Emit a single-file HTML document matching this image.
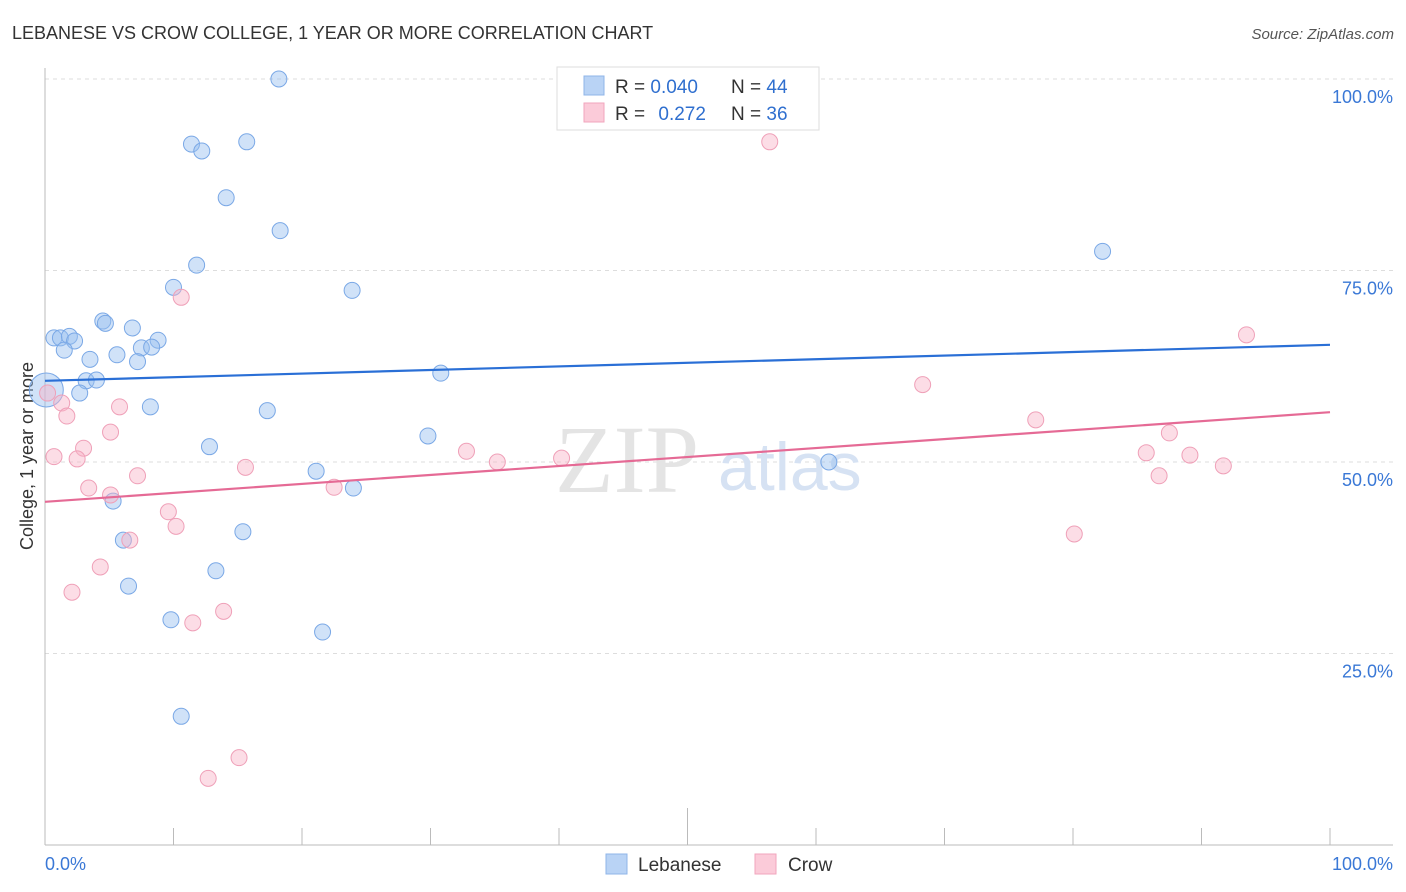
<!DOCTYPE html>
<html><head><meta charset="utf-8">
<style>
body{margin:0;background:#fff;font-family:"Liberation Sans",sans-serif;}
svg{display:block}
</style></head>
<body>
<svg id="chart" width="1406" height="892">
<text x="12" y="39" font-size="18" fill="#333">LEBANESE VS CROW COLLEGE, 1 YEAR OR MORE CORRELATION CHART</text>
<text x="1394" y="39" font-size="15" fill="#555" font-style="italic" text-anchor="end">Source: ZipAtlas.com</text>
<text transform="translate(33,456) rotate(-90)" font-size="18" fill="#333" text-anchor="middle">College, 1 year or more</text>
<g id="grid"></g>
<text x="555" y="492" font-size="96" fill="#e4e4e4" font-family="Liberation Serif,serif">ZIP</text>
<text x="718" y="490" font-size="68" fill="#d6e2f3">atlas</text>
<g id="marks"></g>
<g>
<rect x="557" y="67" width="262" height="63" fill="#fff" stroke="#ddd"/>
<rect x="584" y="76" width="20" height="19" fill="#b9d3f5" stroke="#8fb4e8"/>
<rect x="584" y="103" width="20" height="19" fill="#fbcbd9" stroke="#f2a6bd"/>
<text x="615" y="93" font-size="19" fill="#333">R = <tspan fill="#2f6fcf">0.040</tspan></text>
<text x="731" y="93" font-size="19" fill="#333">N = <tspan fill="#2f6fcf">44</tspan></text>
<text x="615" y="120" font-size="19" fill="#333">R = <tspan fill="#2f6fcf" dx="8">0.272</tspan></text>
<text x="731" y="120" font-size="19" fill="#333">N = <tspan fill="#2f6fcf">36</tspan></text>
</g>
<g>
<rect x="606" y="854" width="21" height="20" fill="#b9d3f5" stroke="#8fb4e8"/>
<text x="638" y="871" font-size="19" fill="#333">Lebanese</text>
<rect x="755" y="854" width="21" height="20" fill="#fbcbd9" stroke="#f2a6bd"/>
<text x="788" y="871" font-size="19" fill="#333">Crow</text>
</g>
</svg>
<script>
const yTicks=[25,50,75,100];
const yTickLabels=["25.0%","50.0%","75.0%","100.0%"];
const xTicks=[0,10,20,30,40,50,60,70,80,90,100];
const lebX=[18.2,11.4,12.2,15.7,14.1,18.3,11.8,10.0,23.9,4.5,4.7,6.8,0.7,1.2,1.9,2.3,8.8,7.5,8.3,1.5,5.6,3.5,7.2,3.2,4.0,2.7,0.1,8.2,17.3,30.8,29.8,12.8,21.1,24.0,5.3,61.0,82.3,15.4,6.1,13.3,6.5,9.8,21.6,10.6];
const lebY=[100,91.5,90.6,91.8,84.5,80.2,75.7,72.8,72.4,68.4,68.1,67.5,66.2,66.2,66.4,65.8,65.9,64.9,65.0,64.6,64.0,63.4,63.1,60.6,60.7,59.0,59.4,57.2,56.7,61.6,53.4,52.0,48.8,46.6,44.9,50.0,77.5,40.9,39.8,35.8,33.8,29.4,27.8,16.8];
const crowX=[56.4,10.6,93.5,68.3,0.2,1.3,1.7,5.8,5.1,77.1,3.0,0.7,2.5,32.8,35.2,40.2,87.5,85.7,89.1,91.7,15.6,7.2,3.4,5.1,22.5,86.7,9.6,10.2,6.6,4.3,2.1,13.9,11.5,80.1,15.1,12.7];
const crowY=[91.8,71.5,66.6,60.1,59.0,57.7,56.0,57.2,53.9,55.5,51.8,50.7,50.4,51.4,50.0,50.5,53.8,51.2,50.9,49.5,49.3,48.2,46.6,45.7,46.7,48.2,43.5,41.6,39.8,36.3,33.0,30.5,29.0,40.6,11.4,8.7];
const lebTrend=[60.6,65.3];
const crowTrend=[44.8,56.5];
const NS="http://www.w3.org/2000/svg";
const sx=v=>45+v*12.85;
const sy=v=>845-v*7.66;
function mk(tag,attrs,parent){const e=document.createElementNS(NS,tag);for(const k in attrs)e.setAttribute(k,attrs[k]);parent.appendChild(e);return e;}
const grid=document.getElementById('grid');
const marks=document.getElementById('marks');
yTicks.forEach((t,i)=>{
  const l=mk('line',{x1:45,x2:1393,y1:sy(t),y2:sy(t),stroke:'#ddd','stroke-dasharray':'4,4'},grid);
  
  
  const tx=mk('text',{x:1393,y:sy(t)+24,'font-size':18,fill:'#3a78d6','text-anchor':'end'},grid);
  tx.textContent=yTickLabels[i];
  
  
});
const ax=mk('line',{x1:45,x2:45,y1:68,y2:845,stroke:'#bbb'},grid);


const bx=mk('line',{x1:45,x2:1393,y1:845,y2:845,stroke:'#bbb'},grid);


xTicks.forEach(t=>{
  const tk=mk('line',{x1:sx(t),x2:sx(t),y1:845,y2:t===50?808:828,stroke:'#bbb'},grid);
  
  
});
const xl0=mk('text',{x:45,y:870,'font-size':18,fill:'#3a78d6'},grid);xl0.textContent='0.0%';


const xl1=mk('text',{x:1393,y:870,'font-size':18,fill:'#3a78d6','text-anchor':'end'},grid);xl1.textContent='100.0%';


lebX.forEach((x,i)=>{
  const big=i===26;
  const c=mk('circle',{cx:sx(x),cy:sy(lebY[i]),r:big?17:8,fill:'rgba(150,190,240,0.45)',stroke:'#7aa8e6','stroke-width':1},marks);
  
  
});
crowX.forEach((x,i)=>{
  const c=mk('circle',{cx:sx(x),cy:sy(crowY[i]),r:8,fill:'rgba(248,180,200,0.45)',stroke:'#efa0b8','stroke-width':1},marks);
  
  
});
const lt=mk('line',{x1:sx(0),x2:sx(100),y1:sy(lebTrend[0]),y2:sy(lebTrend[1]),stroke:'#2a6fd6','stroke-width':2.2},marks);


const ct=mk('line',{x1:sx(0),x2:sx(100),y1:sy(crowTrend[0]),y2:sy(crowTrend[1]),stroke:'#e56a95','stroke-width':2.2},marks);


</script>
</body></html>
